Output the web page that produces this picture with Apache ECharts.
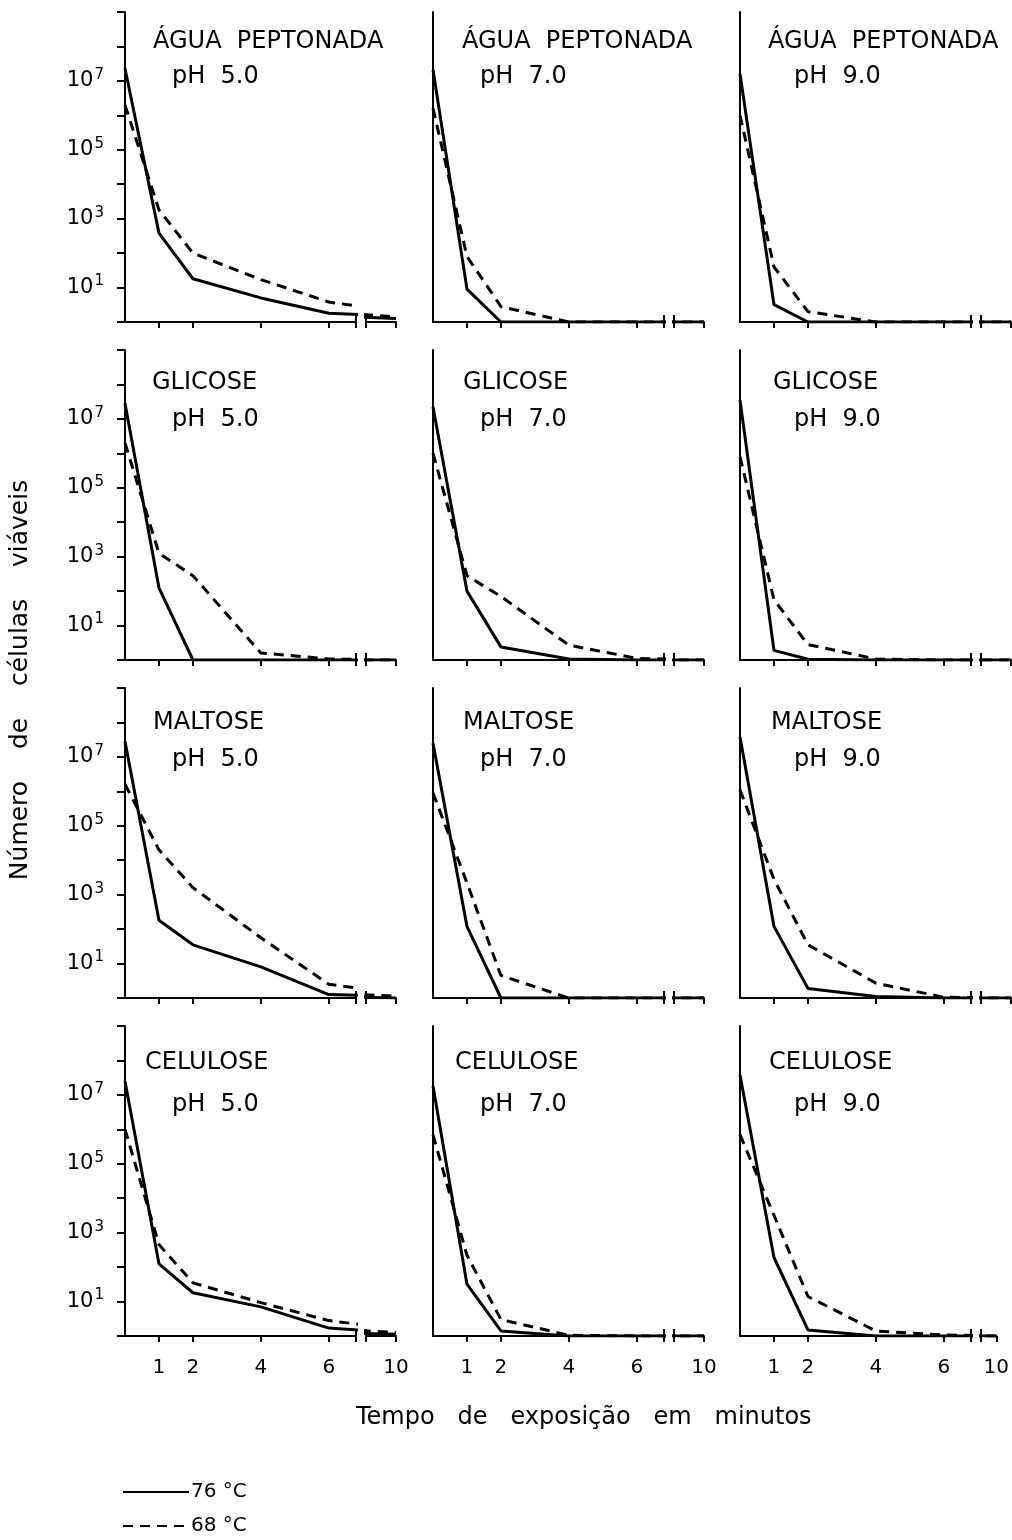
<!DOCTYPE html>
<html>
<head>
<meta charset="utf-8">
<title>Número de células viáveis</title>
<script src="https://cdn.jsdelivr.net/npm/echarts@6/dist/echarts.min.js"></script>
<style>
  html, body { margin: 0; padding: 0; background: #fff; }
  #chart { width: 1012px; height: 1540px; }
</style>
</head>
<body>
<div id="chart"></div>
<script>
// tempo de exposição (min)
const TEMPOS = [0, 1, 2, 4, 6, 8, 10]
const TICKS_X = [1, 2, 4, 6]
const MEIOS = ['ÁGUA  PEPTONADA', 'GLICOSE', 'MALTOSE', 'CELULOSE']
const PHS = ['pH  5.0', 'pH  7.0', 'pH  9.0']

// células viáveis, uma linha por pH (5.0, 7.0, 9.0)
const agua76 = [
    [2.3e7, 380, 18, 5, 1.8, 1.5, 1.26],
    [2.1e7, 9, 1, 1, 1, 1, 1],
    [1.6e7, 3.2, 1, 1, 1, 1, 1]
]
const agua68 = [
    [2e6, 1800, 100, 17, 3.8, 2, 1.4],
    [1.6e6, 80, 2.8, 1, 1, 1, 1],
    [1e6, 40, 2, 1, 1, 1, 1]
]
const glicose76 = [
    [2.8e7, 125, 1, 1, 1, 1, 1],
    [2.2e7, 100, 2.4, 1.07, 1, 1, 1],
    [3.5e7, 1.9, 1.05, 1, 1, 1, 1]
]
const glicose68 = [
    [2e6, 1250, 280, 1.6, 1.07, 1, 1],
    [1e6, 280, 70, 2.7, 1.12, 1, 1],
    [8e5, 56, 2.8, 1.07, 1, 1, 1]
]
const maltose76 = [
    [2.8e7, 180, 35, 8, 1.26, 1.12, 1],
    [2.5e7, 120, 1, 1, 1, 1, 1],
    [3.8e7, 120, 1.9, 1.1, 1, 1, 1]
]
const maltose68 = [
    [1.6e6, 2e4, 1600, 56, 2.5, 1.4, 1.12],
    [9e5, 2200, 4.5, 1, 1, 1, 1],
    [1.1e6, 2800, 35, 2.7, 1.05, 1, 1]
]
const celulose76 = [
    [2.5e7, 125, 18, 7, 1.7, 1.26, 1.12],
    [1.8e7, 32, 1.4, 1, 1, 1, 1],
    [3.8e7, 190, 1.5, 1, 1, 1, 1]
]
const celulose68 = [
    [1e6, 450, 35, 9.3, 2.8, 1.6, 1.26],
    [7e5, 220, 3, 1.05, 1, 1, 1],
    [7e5, 3200, 14, 1.4, 1.07, 1, 1]
]

const DADOS76 = [agua76, glicose76, maltose76, celulose76]
const DADOS68 = [agua68, glicose68, maltose68, celulose68]

// layout (px)
const FONT = 'DejaVu Sans'
const PANEL_LEFT = [125, 433, 740]
const BASELINE = [322, 660, 998, 1336]
const PLOT_H = 310
const MAIN_W = 231
const TAIL_GAP = 10
const TAIL_W = 30
const BREAK_AT = 6.8
const TAIL_MIN = 9.1
const TITLE1_DX = [[28, 29, 28], [27, 30, 33], [28, 30, 31], [20, 22, 29]]
const TITLE1_DY = [-280, -277, -275, -273]
const TITLE2_DX = [47, 47, 54]
const TITLE2_DY = [-245, -240, -238, -231]

const black = '#000'
const axisLineStyle = { color: black, width: 2 }
const DASH = [10, 7]

let grids = [], xAxes = [], yAxes = [], series = [], titles = []

function yAxisLabel(v) {
    let e = Math.round(Math.log10(v))
    if (e % 2 === 1 && e < 9) {
        return '{b|10}{s|' + e + '}'
    }
    return ''
}

function addXAxis(gridIndex, min, max, ticks, labels, breakTick) {
    xAxes.push({
        gridIndex: gridIndex,
        type: 'value',
        position: 'bottom',
        min: min,
        max: max,
        axisLine: { lineStyle: axisLineStyle },
        axisTick: { customValues: ticks, length: 6, lineStyle: axisLineStyle },
        axisLabel: {
            show: labels.length > 0,
            customValues: labels,
            margin: 22,
            fontSize: 20,
            fontFamily: FONT,
            color: black
        },
        splitLine: { show: false }
    })
    // marca de quebra do eixo (lado de dentro)
    xAxes.push({
        gridIndex: gridIndex,
        type: 'value',
        position: 'bottom',
        min: min,
        max: max,
        axisLine: { show: false },
        axisTick: { customValues: [breakTick], inside: true, length: 7, lineStyle: axisLineStyle },
        axisLabel: { show: false },
        splitLine: { show: false }
    })
}

for (let r = 0; r < MEIOS.length; r++) {
    for (let c = 0; c < PHS.length; c++) {
        let L = PANEL_LEFT[c]
        let B = BASELINE[r]
        let bottomRow = r === MEIOS.length - 1
        let gMain = grids.length
        grids.push({ left: L, top: B - PLOT_H, width: MAIN_W, height: PLOT_H })
        let gTail = grids.length
        grids.push({ left: L + MAIN_W + TAIL_GAP, top: B - PLOT_H, width: TAIL_W, height: PLOT_H })

        let xMain = xAxes.length
        addXAxis(gMain, 0, BREAK_AT, TICKS_X.concat([BREAK_AT]), bottomRow ? TICKS_X : [], BREAK_AT)
        let xTail = xAxes.length
        addXAxis(gTail, TAIL_MIN, 10, [TAIL_MIN, 10], bottomRow ? [10] : [], TAIL_MIN)

        let yMain = yAxes.length
        yAxes.push({
            gridIndex: gMain,
            type: 'log',
            logBase: 10,
            min: 1,
            max: 1e9,
            splitNumber: 9,
            axisLine: { show: true, lineStyle: axisLineStyle },
            axisTick: { show: c === 0, length: 8, lineStyle: axisLineStyle },
            axisLabel: {
                show: c === 0,
                margin: 21,
                formatter: yAxisLabel,
                color: black,
                rich: {
                    b: { fontSize: 21, fontFamily: FONT, color: black },
                    s: { fontSize: 15, fontFamily: FONT, color: black, padding: [0, 0, 12, 1] }
                }
            },
            splitLine: { show: false },
            minorTick: { show: false }
        })
        let yTail = yAxes.length
        yAxes.push({
            gridIndex: gTail,
            type: 'log',
            logBase: 10,
            min: 1,
            max: 1e9,
            show: false
        })

        let d76 = TEMPOS.map((t, i) => [t, DADOS76[r][c][i]])
        let d68 = TEMPOS.map((t, i) => [t, DADOS68[r][c][i]])
        let pairs = [[xMain, yMain], [xTail, yTail]]
        pairs.forEach(p => {
            series.push({
                name: '76 °C', type: 'line', xAxisIndex: p[0], yAxisIndex: p[1],
                data: d76, symbol: 'none', clip: true, silent: true,
                itemStyle: { color: black },
                lineStyle: { color: black, width: 3, type: 'solid' }
            })
            series.push({
                name: '68 °C', type: 'line', xAxisIndex: p[0], yAxisIndex: p[1],
                data: d68, symbol: 'none', clip: true, silent: true,
                itemStyle: { color: black },
                lineStyle: { color: black, width: 3, type: DASH }
            })
        })

        titles.push({
            text: MEIOS[r],
            left: L + TITLE1_DX[r][c],
            top: B + TITLE1_DY[r] - 13,
            padding: 0,
            textStyle: { fontSize: 24, fontWeight: 'normal', fontFamily: FONT, color: black, lineHeight: 26 }
        })
        titles.push({
            text: PHS[c],
            left: L + TITLE2_DX[c],
            top: B + TITLE2_DY[r] - 13,
            padding: 0,
            textStyle: { fontSize: 24, fontWeight: 'normal', fontFamily: FONT, color: black, lineHeight: 26 }
        })
    }
}

titles.push({
    text: 'Tempo   de   exposição   em   minutos',
    left: 356,
    top: 1405,
    padding: 0,
    textStyle: { fontSize: 24, fontWeight: 'normal', fontFamily: FONT, color: black, lineHeight: 26 }
})

let options = {
    backgroundColor: '#fff',
    animation: false,
    textStyle: { fontFamily: FONT },
    title: titles,
    legend: {
        data: ['76 °C', '68 °C'],
        orient: 'vertical',
        left: 122,
        top: 1481,
        padding: 0,
        itemWidth: 66,
        itemHeight: 14,
        itemGap: 12,
        selectedMode: false,
        itemStyle: { opacity: 0 },
        textStyle: { fontSize: 20, fontFamily: FONT, color: black, lineHeight: 22, padding: [0, 0, 0, -3] }
    },
    grid: grids,
    xAxis: xAxes,
    yAxis: yAxes,
    series: series,
    graphic: [{
        type: 'text',
        x: 20,
        y: 680,
        rotation: Math.PI / 2,
        style: {
            text: 'Número    de    células    viáveis',
            fontSize: 25,
            fontFamily: FONT,
            fill: black,
            align: 'center',
            verticalAlign: 'middle'
        }
    }]
}

let graph = echarts.init(document.getElementById('chart'), null, { renderer: 'canvas' })
graph.setOption(options)
</script>
</body>
</html>
